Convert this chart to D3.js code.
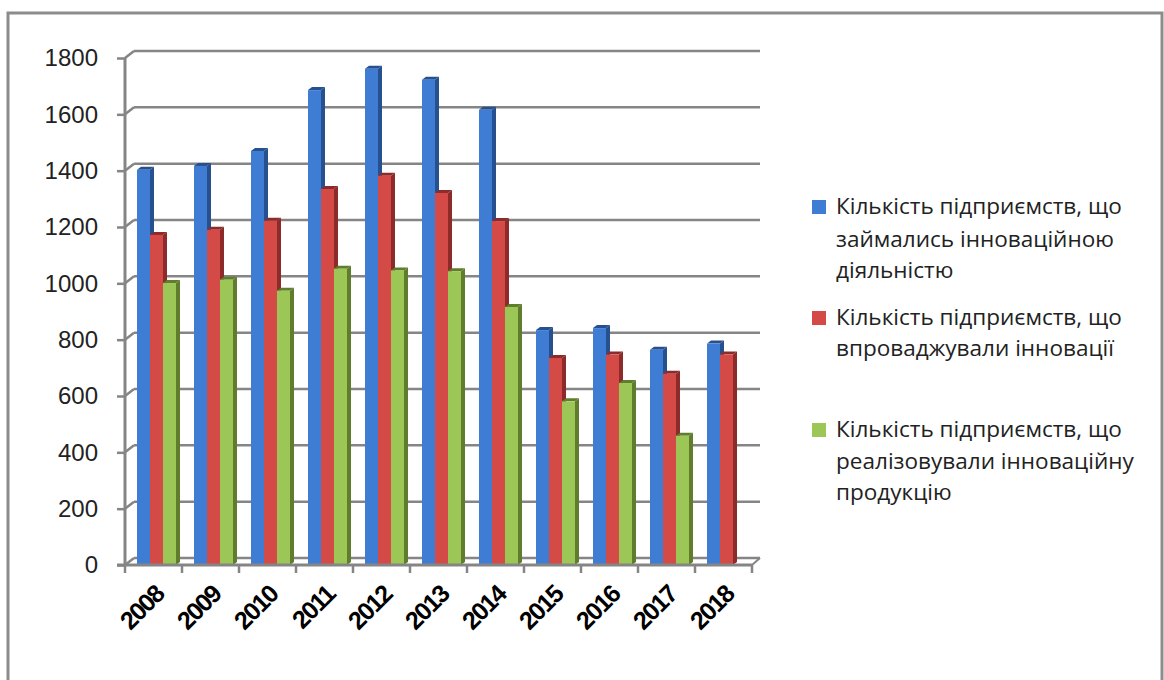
<!DOCTYPE html>
<html>
<head>
<meta charset="utf-8">
<script src="https://cdn.jsdelivr.net/npm/d3@7"></script>
<style>
  body { margin: 0; background: #fff; }
  svg { display: block; }
</style>
</head>
<body>
<div id="app"></div>
<script>
const years = ['2008', '2009', '2010', '2011', '2012', '2013', '2014', '2015', '2016', '2017', '2018'];
const engaged = [1403, 1417, 1470, 1686, 1762, 1723, 1616, 834, 841, 764, 786];
const implemented = [1172, 1190, 1222, 1335, 1382, 1321, 1221, 735, 747, 679, 747];
const sold = [1001, 1013, 974, 1052, 1046, 1043, 916, 581, 646, 459, null];
const yTicks = [0, 200, 400, 600, 800, 1000, 1200, 1400, 1600, 1800];
const seriesNames = [
  ['Кількість підприємств, що', 'займались інноваційною', 'діяльністю'],
  ['Кількість підприємств, що', 'впроваджували інновації'],
  ['Кількість підприємств, що', 'реалізовували інноваційну', 'продукцію']
];

const width = 1164, height = 680;
const front = ['#3f7dd4', '#d34a47', '#9cc757'];
const side = ['#27508f', '#8c2b2a', '#5f7d2c'];
const series = [engaged, implemented, sold];

const svg = d3.select('#app').append('svg')
  .attr('width', width)
  .attr('height', height);

// outer frame
svg.append('rect')
  .attr('x', 8).attr('y', 13)
  .attr('width', 1154).attr('height', 690)
  .attr('fill', 'none')
  .attr('stroke', '#8c8c8c')
  .attr('stroke-width', 3);

const x = d3.scaleBand().domain(years).range([125, 752]);
const inner = d3.scaleBand().domain([0, 1, 2]).range([12, 51]);
const y = d3.scaleLinear().domain([0, 1800]).range([565, 58]);

const dx = 9, dy = -7; // depth of the back wall
const bdx = 4, bdy = -3; // bar depth

// back wall gridlines
svg.append('g').selectAll('line')
  .data(yTicks.filter(d => d > 0))
  .enter().append('line')
  .attr('x1', 125 + dx).attr('x2', 760)
  .attr('y1', d => y(d) + dy).attr('y2', d => y(d) + dy)
  .attr('stroke', '#858585')
  .attr('stroke-width', 2.5);

// side wall connectors
svg.append('g').selectAll('line')
  .data(yTicks)
  .enter().append('line')
  .attr('x1', 125).attr('x2', 125 + dx)
  .attr('y1', d => y(d)).attr('y2', d => y(d) + dy)
  .attr('stroke', '#858585')
  .attr('stroke-width', 2.5);

// floor
svg.append('line')
  .attr('x1', 125 + dx).attr('x2', 760)
  .attr('y1', y(0) + dy).attr('y2', y(0) + dy)
  .attr('stroke', '#858585').attr('stroke-width', 2.5);
svg.append('line')
  .attr('x1', 752).attr('x2', 760)
  .attr('y1', y(0)).attr('y2', y(0) + dy)
  .attr('stroke', '#858585').attr('stroke-width', 2);

// bars
years.forEach((yr, i) => {
  series.forEach((s, k) => {
    const v = s[i];
    if (v == null) return;
    const x0 = x(yr) + inner(k);
    const w = inner.bandwidth();
    const top = y(v);
    const g = svg.append('g');
    g.append('polygon')
      .attr('points', [[x0 + w, top], [x0 + w + bdx, top + bdy], [x0 + w + bdx, y(0) + bdy], [x0 + w, y(0)]].join(' '))
      .attr('fill', side[k]);
    g.append('polygon')
      .attr('points', [[x0, top], [x0 + bdx, top + bdy], [x0 + w + bdx, top + bdy], [x0 + w, top]].join(' '))
      .attr('fill', side[k]);
    g.append('rect')
      .attr('x', x0).attr('y', top)
      .attr('width', w).attr('height', y(0) - top)
      .attr('fill', front[k]);
  });
});

// front axes
svg.append('line')
  .attr('x1', 125).attr('x2', 125)
  .attr('y1', y(1800)).attr('y2', y(0))
  .attr('stroke', '#858585').attr('stroke-width', 3);
svg.append('line')
  .attr('x1', 117).attr('x2', 752)
  .attr('y1', y(0)).attr('y2', y(0))
  .attr('stroke', '#858585').attr('stroke-width', 3);

const yAxis = d3.axisLeft(y).tickValues(yTicks).tickFormat(d3.format('d')).tickSize(8).tickPadding(19);
const ya = svg.append('g').attr('transform', 'translate(125,0)').call(yAxis);
ya.select('.domain').remove();
ya.selectAll('line').attr('stroke', '#858585').attr('stroke-width', 2.5);
ya.selectAll('text')
  .attr('font-family', 'Liberation Sans, Arial, sans-serif')
  .attr('font-size', 24)
  .attr('fill', '#222');

// x ticks at category boundaries
svg.append('g').selectAll('line')
  .data(years.concat(['end']))
  .enter().append('line')
  .attr('x1', (d, i) => 125 + i * x.bandwidth())
  .attr('x2', (d, i) => 125 + i * x.bandwidth())
  .attr('y1', y(0)).attr('y2', y(0) + 8)
  .attr('stroke', '#858585').attr('stroke-width', 2.5);

// x labels
svg.append('g').selectAll('text')
  .data(years)
  .enter().append('text')
  .attr('transform', d => `translate(${x(d) + x.bandwidth() / 2 + 12},${596}) rotate(-45)`)
  .attr('text-anchor', 'end')
  .attr('font-family', 'Liberation Sans, Arial, sans-serif')
  .attr('font-weight', 'bold')
  .attr('font-size', 25)
  .attr('letter-spacing', -1.5)
  .attr('fill', '#000')
  .text(d => d);

// legend
const legendLines = [[207, 240, 271], [318, 349], [430, 462, 493]];
const leg = svg.append('g');
seriesNames.forEach((lines, k) => {
  leg.append('rect')
    .attr('x', 812).attr('y', legendLines[k][0] - 7)
    .attr('width', 14).attr('height', 14)
    .attr('fill', front[k]);
  lines.forEach((t, j) => {
    leg.append('text')
      .attr('class', 'lg')
      .attr('x', 836)
      .attr('y', legendLines[k][j] + 7)
      .attr('font-family', 'Open Sans, sans-serif')
      .attr('font-size', 20)
      .attr('fill', '#222')
      .text(t);
  });
});
// fit legend font so the first line spans like the picture
const first = leg.select('text.lg').node();
const fs = 20 * 286 / first.getComputedTextLength();
leg.selectAll('text.lg').attr('font-size', fs);
</script>
</body>
</html>
